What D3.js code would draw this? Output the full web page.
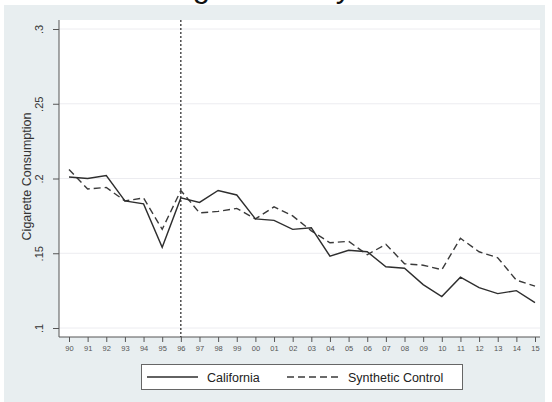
<!DOCTYPE html>
<html>
<head>
<meta charset="utf-8">
<script src="https://cdn.jsdelivr.net/npm/d3@7"></script>
<style>
  html, body { margin: 0; padding: 0; background: #ffffff; }
  svg { display: block; font-family: "Liberation Sans", Arial, sans-serif; }
</style>
</head>
<body>
<svg id="chart" width="552" height="402"></svg>
<script>
// Per-capita cigarette consumption, California vs. its synthetic control
const years = [1990,1991,1992,1993,1994,1995,1996,1997,1998,1999,2000,2001,2002,
               2003,2004,2005,2006,2007,2008,2009,2010,2011,2012,2013,2014,2015];
const yearLabels = ["90","91","92","93","94","95","96","97","98","99","00","01","02",
                    "03","04","05","06","07","08","09","10","11","12","13","14","15"];
const california = [0.201,0.200,0.202,0.185,0.183,0.154,0.187,0.184,0.192,0.189,0.173,0.172,0.166,
                    0.167,0.148,0.152,0.151,0.141,0.140,0.129,0.121,0.134,0.127,0.123,0.125,0.117];
const synthetic  = [0.206,0.193,0.194,0.185,0.187,0.166,0.192,0.177,0.178,0.180,0.173,0.181,0.175,
                    0.165,0.157,0.158,0.149,0.156,0.143,0.142,0.139,0.160,0.151,0.147,0.132,0.128];
const yTicks = [0.1, 0.15, 0.2, 0.25, 0.3];
const yTickLabels = [".1", ".15", ".2", ".25", ".3"];
const treatmentYear = 1996;
const seriesNames = ["California", "Synthetic Control"];
const titleText = "Original vs. Synthetic";

const svg = d3.select("#chart");

// outer graph region
svg.append("rect").attr("x", 4).attr("y", 5).attr("width", 541).attr("height", 397)
  .attr("fill", "#e8eef0");

// title (sits above the graph region, mostly beyond the top edge)
svg.append("text").attr("x", 297).attr("y", -3).attr("text-anchor", "middle")
  .attr("font-size", 31).attr("fill", "#111").text(titleText);

const plot = { left: 59, right: 540, top: 20, bottom: 337 };

svg.append("rect").attr("x", plot.left).attr("y", plot.top)
  .attr("width", plot.right - plot.left).attr("height", plot.bottom - plot.top)
  .attr("fill", "#ffffff");

const x = d3.scaleLinear().domain([1990, 2015]).range([69, 535]);
const y = d3.scaleLinear().domain([0.1, 0.3]).range([328, 29]);

// horizontal grid lines
svg.append("g").selectAll("line").data(yTicks).join("line")
  .attr("x1", plot.left).attr("x2", plot.right)
  .attr("y1", d => y(d)).attr("y2", d => y(d))
  .attr("stroke", "#ececf0").attr("stroke-width", 1);

// y axis, labels set vertically
const yAxis = d3.axisLeft(y).tickValues(yTicks)
  .tickFormat((d, i) => yTickLabels[i]).tickSize(6).tickPadding(4);
const gy = svg.append("g").attr("transform", `translate(${plot.left},0)`).call(yAxis);
gy.select(".domain").attr("d", `M0,${plot.top}V${plot.bottom}`).attr("stroke", "#555");
gy.selectAll(".tick line").attr("stroke", "#555");
gy.selectAll(".tick text")
  .attr("font-size", 11).attr("fill", "#333")
  .attr("text-anchor", "middle")
  .attr("dy", "0")
  .attr("x", 0).attr("y", 0)
  .attr("transform", "translate(-16,0) rotate(-90)");

// x axis
const xAxis = d3.axisBottom(x).tickValues(years)
  .tickFormat((d, i) => yearLabels[i]).tickSize(5).tickPadding(4);
const gx = svg.append("g").attr("transform", `translate(0,${plot.bottom})`).call(xAxis);
gx.select(".domain").attr("d", `M${plot.left},0H${plot.right}`).attr("stroke", "#555");
gx.selectAll(".tick line").attr("stroke", "#555");
gx.selectAll(".tick text").attr("font-size", 7.5).attr("fill", "#555");

// y axis title
svg.append("text").attr("transform", `translate(31,${(plot.top + plot.bottom) / 2 - 2}) rotate(-90)`)
  .attr("text-anchor", "middle").attr("font-size", 12.5).attr("fill", "#333")
  .text("Cigarette Consumption");

// treatment year marker
svg.append("line").attr("x1", x(treatmentYear)).attr("x2", x(treatmentYear))
  .attr("y1", plot.top).attr("y2", plot.bottom)
  .attr("stroke", "#222").attr("stroke-width", 1.2).attr("stroke-dasharray", "2,2");

const line = d3.line().x((d, i) => x(years[i])).y(d => y(d));

svg.append("path").datum(synthetic).attr("d", line)
  .attr("fill", "none").attr("stroke", "#3a3a3a").attr("stroke-width", 1.4)
  .attr("stroke-dasharray", "7,4");
svg.append("path").datum(california).attr("d", line)
  .attr("fill", "none").attr("stroke", "#2e2e2e").attr("stroke-width", 1.4);

// legend
const lg = svg.append("g");
lg.append("rect").attr("x", 141.5).attr("y", 364.5).attr("width", 321).attr("height", 25)
  .attr("fill", "#ffffff").attr("stroke", "#666").attr("stroke-width", 1);
lg.append("line").attr("x1", 147).attr("x2", 198).attr("y1", 377).attr("y2", 377)
  .attr("stroke", "#2e2e2e").attr("stroke-width", 1.4);
lg.append("text").attr("x", 207).attr("y", 381.5).attr("font-size", 12.5).attr("fill", "#222")
  .text(seriesNames[0]);
lg.append("line").attr("x1", 287).attr("x2", 340).attr("y1", 377).attr("y2", 377)
  .attr("stroke", "#3a3a3a").attr("stroke-width", 1.4).attr("stroke-dasharray", "7,4");
lg.append("text").attr("x", 348).attr("y", 381.5).attr("font-size", 12.5).attr("fill", "#222")
  .text(seriesNames[1]);
</script>
</body>
</html>
